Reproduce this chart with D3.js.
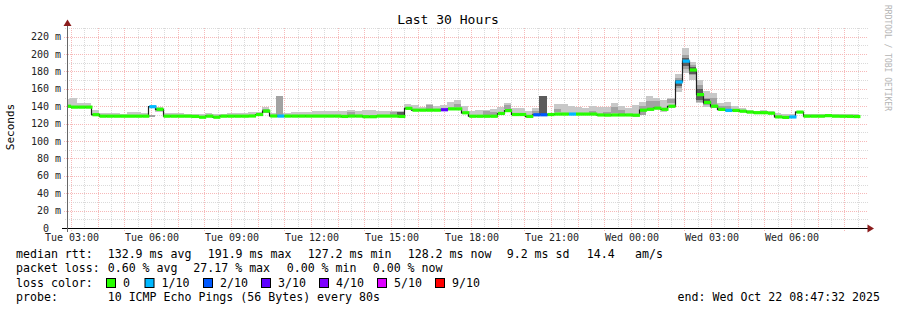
<!DOCTYPE html>
<html>
<head>
<meta charset="utf-8">
<script src="https://cdn.jsdelivr.net/npm/d3@7"></script>
<style>
body { margin: 0; background: #fff; }
text { font-family: "DejaVu Sans Mono", monospace; white-space: pre; }
</style>
</head>
<body>
<svg width="897" height="310"></svg>
<script>
// 16 minute steps, first one starts before the left edge
var firstStep = new Date(2025, 9, 21, 2, 42);
var stepMin = 16;

// median rtt per step (ms)
var medianMs = [
	140, 139, 139, 139, 130.3, 128.6, 128.6, 128.6, 128.6, 128.6,
	128.6, 128.6, 139.5, 136.5, 128.6, 128.6, 128.6, 128.6, 128.3, 127.4,
	128.6, 127.4, 128.6, 128.6, 128.6, 128.6, 128.8, 130.5, 134.5, 128.8,
	128.7, 128.7, 128.7, 128.7, 128.7, 128.7, 128.7, 128.7, 128.7, 128.3,
	128.7, 128.7, 128.0, 128.0, 128.7, 128.7, 128.7, 128.3, 137.6, 135.5,
	135.5, 135.5, 135.5, 136.0, 137.0, 137.0, 132.5, 128.5, 128.5, 128.5,
	128.5, 131.7, 135.0, 130.5, 130.5, 128.3, 130.2, 130.2, 130.5, 131.0,
	131.0, 131.0, 131.0, 131.0, 131.0, 130.0, 129.8, 130.0, 130.0, 130.0,
	129.7, 135.5, 136.5, 137.8, 136.5, 140.0, 167.9, 191.9, 181.7, 153.4,
	144.4, 140.1, 136.4, 135.2, 135.2, 134.3, 133.3, 132.6, 132.6, 132.0,
	127.8, 127.2, 127.7, 133.3, 128.6, 128.6, 128.6, 129.2, 128.6, 128.5,
	128.4, 128.2
];

// lost pings out of 10 per step
var lossTenths = [
	0, 0, 0, 0, 0, 0, 0, 0, 0, 0,
	0, 0, 1, 0, 0, 0, 0, 0, 0, 0,
	0, 0, 0, 0, 0, 0, 0, 0, 0, 0,
	1, 0, 0, 0, 0, 0, 0, 0, 0, 0,
	0, 0, 0, 0, 0, 0, 0, 0, 0, 0,
	0, 0, 0, 3, 0, 0, 0, 0, 0, 0,
	0, 0, 0, 0, 0, 0, 2, 2, 0, 0,
	0, 1, 0, 0, 0, 0, 0, 0, 0, 0,
	0, 0, 0, 0, 0, 0, 1, 1, 0, 0,
	0, 0, 0, 1, 0, 0, 0, 0, 0, 0,
	0, 0, 1, 0, 0, 0, 0, 0, 0, 0,
	0, 0
];

// smoke: lowest and highest ping per step (ms)
var smokeLo = [
	138.5, 137.8, 137.8, 137.8, 129, 127.4, 127.4, 127.4, 127.4, 127.4,
	127.4, 127.4, 127.5, 133, 127.4, 127.4, 127.4, 127.4, 127, 126.2,
	127.4, 126.2, 127.4, 127.4, 127.4, 127.4, 127.6, 129.3, 132, 127.6,
	128, 127.5, 127.5, 127.5, 127.5, 127.5, 127.5, 127.5, 127.5, 127,
	127.5, 127.5, 126.8, 126.8, 127.5, 127.5, 127.5, 127, 136, 134.3,
	134.3, 134.3, 134.3, 134.8, 135.8, 135.8, 131.3, 127.3, 127.3, 127.3,
	127.3, 130.5, 133.8, 129.3, 129.3, 127, 129, 130, 129.3, 129.8,
	129.8, 129.8, 129.8, 129.8, 129.8, 128.8, 128.6, 128.8, 128.8, 128.8,
	128, 131.5, 135, 136.5, 133.5, 138.5, 156.8, 178, 170.2, 143.4,
	139.5, 137.5, 135, 134, 134, 133, 132, 131.4, 131.4, 130.8,
	126.6, 126, 126.5, 132, 127.4, 127.4, 127.4, 128, 127.4, 127.3,
	127.2, 127
];
var smokeHi = [
	148, 149, 143.5, 143.5, 135.7, 132, 132, 132, 131.5, 133,
	133.5, 132, 129.5, 139.5, 132, 132, 132, 131.5, 131, 131.5,
	132, 131, 131.5, 132, 132, 132, 133.8, 133, 139.5, 132,
	152, 132, 133, 133, 133.8, 134.5, 134.5, 135, 134.5, 134.5,
	136, 134.5, 135.7, 135.7, 134.5, 134.5, 134.5, 134.5, 142.6, 141,
	139.5, 142.6, 140.6, 141, 144.5, 147.2, 140.3, 134, 135.7, 135.7,
	136.5, 139.5, 144.2, 137.6, 137.6, 134.5, 137.6, 151.8, 132, 142.6,
	142.6, 140.3, 139.5, 137.6, 140, 139, 139, 144, 140.3, 138,
	141.4, 145.3, 151.8, 149, 147.2, 149.9, 176.7, 206.6, 191.3, 170.2,
	157.5, 155.6, 144.1, 145.3, 140.3, 138.3, 136, 135, 136, 135,
	131.9, 131.5, 131, 135, 131, 131, 131, 131.5, 131, 131,
	131, 131
];
// darker inner smoke bands: [step, low, high]
var midSmoke = [
	[12, 127.5, 129.5], [13, 134, 138], [28, 132, 137], [30, 128, 152],
	[40, 130, 133], [46, 129.5, 133], [51, 137, 141], [55, 139, 143],
	[59, 130, 134], [60, 130, 133], [62, 137, 141], [66, 131.5, 135],
	[69, 133, 137], [74, 132, 135], [76, 130.5, 133.5], [77, 132, 139],
	[78, 129, 136], [81, 130, 140], [82, 137.5, 146.5], [83, 139.5, 146],
	[85, 143.5, 148], [86, 161, 172.5], [87, 183, 199], [88, 175.5, 188],
	[89, 145, 164], [90, 142, 150], [91, 138, 150], [92, 136, 140], [93, 135, 140]
];
var coreSmoke = [
	[34, 129, 130.5], [47, 129.5, 133], [67, 130, 151.8],
	[86, 163, 170], [87, 186, 195], [88, 177, 185], [89, 147, 160], [90, 143, 148]
];

var lossLabels = ["0", "1/10", "2/10", "3/10", "4/10", "5/10", "9/10"];
var lossColors = ["#26ff00", "#00b8ff", "#0059ff", "#5e00ff", "#7e00ff", "#dd00ff", "#ff0000"];
var rttStats = ["132.9 ms avg", "191.9 ms max", "127.2 ms min", "128.2 ms now", "9.2 ms sd", "14.4", "am/s"];
var lossStats = ["0.60 % avg", "27.17 % max", "0.00 % min", "0.00 % now"];
var probeText = "10 ICMP Echo Pings (56 Bytes) every 80s";
var endText = "end: Wed Oct 22 08:47:32 2025";

function drawMe() {
	var left = 67, right = 867, plotTop = 28, bottom = 228;
	var t1 = new Date(2025, 9, 21, 2, 51), t2 = new Date(2025, 9, 22, 8, 51);

	var x = d3.scaleTime().domain([t1, t2]).range([left, right]);
	var y = d3.scaleLinear().domain([0, 230]).range([bottom, plotTop]);

	function stepTime(i) { return d3.timeMinute.offset(firstStep, stepMin * i); }
	function lossColor(l) {
		if (l <= 4) return lossColors[l];
		if (l <= 8) return lossColors[5];
		return lossColors[6];
	}

	var svg = d3.select("svg");
	svg.append("rect").attr("width", 897).attr("height", 310).attr("fill", "#fff");

	svg.append("defs").append("clipPath").attr("id", "plot")
		.append("rect").attr("x", left + 1).attr("y", plotTop - 5).attr("width", right - left).attr("height", bottom - plotTop + 5);

	//Grid
	var grid = svg.append("g");
	var minorX = d3.timeMinute.every(30).range(t1, t2).filter(function(d) { return d.getMinutes() != 0; });
	var majorX = d3.timeHour.every(1).range(t1, t2);
	function px(v) { return Math.round(v) + 0.5; }
	grid.selectAll(".vmin").data(minorX).enter().append("line")
		.attr("x1", function(d) { return px(x(d)); }).attr("x2", function(d) { return px(x(d)); })
		.attr("y1", plotTop).attr("y2", bottom + 2)
		.attr("stroke", "#dadada").attr("stroke-dasharray", "1,1");
	grid.selectAll(".hmin").data(d3.range(10, 231, 20)).enter().append("line")
		.attr("y1", function(d) { return px(y(d)); }).attr("y2", function(d) { return px(y(d)); })
		.attr("x1", left - 2).attr("x2", right + 1)
		.attr("stroke", "#dadada").attr("stroke-dasharray", "1,1");
	grid.selectAll(".vmaj").data(majorX).enter().append("line")
		.attr("x1", function(d) { return px(x(d)); }).attr("x2", function(d) { return px(x(d)); })
		.attr("y1", plotTop).attr("y2", bottom + 3)
		.attr("stroke", "#f6b9b9").attr("stroke-dasharray", "1,1");
	grid.selectAll(".hmaj").data(d3.range(20, 221, 20)).enter().append("line")
		.attr("y1", function(d) { return px(y(d)); }).attr("y2", function(d) { return px(y(d)); })
		.attr("x1", left - 3).attr("x2", right + 1)
		.attr("stroke", "#f6b9b9").attr("stroke-dasharray", "1,1");

	//Smoke
	var plot = svg.append("g").attr("clip-path", "url(#plot)");
	function band(rows, color) {
		plot.append("g").selectAll("rect").data(rows).enter().append("rect")
			.attr("x", function(d) { return x(stepTime(d[0])); })
			.attr("width", function(d) { return x(stepTime(d[0] + 1)) - x(stepTime(d[0])); })
			.attr("y", function(d) { return y(d[2]); })
			.attr("height", function(d) { return y(d[1]) - y(d[2]); })
			.attr("fill", color).attr("shape-rendering", "crispEdges");
	}
	band(smokeLo.map(function(v, i) { return [i, v, smokeHi[i]]; }), "#c8c8c8");
	band(midSmoke, "#a2a2a2");
	band(coreSmoke, "#5c5c5c");

	//Median line and loss coloured bars
	var pts = medianMs.map(function(v, i) { return {t: stepTime(i), v: v}; });
	pts.push({t: stepTime(medianMs.length), v: medianMs[medianMs.length - 1]});
	var line = d3.line().curve(d3.curveStepAfter)
		.x(function(d) { return px(x(d.t)); })
		.y(function(d) { return y(d.v); });
	plot.append("path").attr("d", line(pts)).attr("fill", "none").attr("stroke", "#202020").attr("stroke-width", 1.2);
	plot.append("g").selectAll("rect").data(medianMs).enter().append("rect")
		.attr("x", function(d, i) { return x(stepTime(i)) + 1; })
		.attr("width", function(d, i) { return x(stepTime(i + 1)) - x(stepTime(i)); })
		.attr("y", function(d) { return y(d) - 1.6; })
		.attr("height", 3.2)
		.attr("fill", function(d, i) { return lossColor(lossTenths[i]); });

	//Axis
	svg.append("line").attr("x1", 62).attr("x2", 869).attr("y1", bottom + 0.5).attr("y2", bottom + 0.5).attr("stroke", "#000");
	svg.append("line").attr("x1", left + 0.5).attr("x2", left + 0.5).attr("y1", bottom + 4).attr("y2", 24).attr("stroke", "#666");
	svg.append("path").attr("d", "M867.5,224.5L874,228.5L867.5,232.5Z").attr("fill", "#8b1c1c");
	svg.append("path").attr("d", "M63.5,26L67.5,19.5L71.5,26Z").attr("fill", "#8b1c1c");

	svg.append("g").selectAll("text").data(d3.range(0, 221, 20)).enter().append("text")
		.attr("x", 61).attr("y", function(d) { return y(d); }).attr("dy", "0.35em")
		.attr("text-anchor", "end").attr("font-size", "10px").attr("fill", "#222")
		.text(function(d) { return d == 0 ? "0  " : d + " m"; });

	svg.append("g").selectAll("text").data(d3.timeHour.every(3).range(t1, t2)).enter().append("text")
		.attr("x", function(d) { return x(d) + 1; }).attr("y", 241)
		.attr("text-anchor", "middle").attr("font-size", "10px").attr("fill", "#222")
		.text(d3.timeFormat("%a %H:%M"));

	svg.append("text").attr("x", 448).attr("y", 24).attr("text-anchor", "middle")
		.attr("font-size", "13px").text("Last 30 Hours");
	svg.append("text").attr("transform", "translate(14,127) rotate(-90)").attr("text-anchor", "middle")
		.attr("font-size", "11px").text("Seconds");
	svg.append("text").attr("transform", "translate(885,5) rotate(90)")
		.attr("font-size", "8px").attr("fill", "#b4b4b4").text("RRDTOOL / TOBI OETIKER");

	//Legend
	var lg = svg.append("g").attr("font-size", "11.6px");
	var rows = [258, 272.3, 286.6, 301];
	lg.append("text").attr("x", 16).attr("y", rows[0]).text("median rtt:");
	lg.append("text").attr("x", 16).attr("y", rows[1]).text("packet loss:");
	lg.append("text").attr("x", 16).attr("y", rows[2]).text("loss color:");
	lg.append("text").attr("x", 16).attr("y", rows[3]).text("probe:");
	var rttX = [107.7, 207.7, 307.7, 407.7, 506.7, 586.7, 635];
	lg.selectAll(".rtt").data(rttStats).enter().append("text")
		.attr("x", function(d, i) { return rttX[i]; }).attr("y", rows[0]).text(function(d) { return d; });
	var lossX = [107.7, 193.3, 286.7, 372.7];
	lg.selectAll(".pl").data(lossStats).enter().append("text")
		.attr("x", function(d, i) { return lossX[i]; }).attr("y", rows[1]).text(function(d) { return d; });
	var boxX = [106.5, 145, 203.5, 261.5, 319.5, 377.5, 435.5];
	var key = lg.selectAll(".key").data(lossLabels).enter().append("g");
	key.append("rect").attr("x", function(d, i) { return boxX[i]; }).attr("y", 278.5)
		.attr("width", 9).attr("height", 9)
		.attr("fill", function(d, i) { return lossColors[i]; }).attr("stroke", "#000");
	key.append("text").attr("x", function(d, i) { return boxX[i] + 16.5; }).attr("y", rows[2]).text(function(d) { return d; });
	lg.append("text").attr("x", 107.7).attr("y", rows[3]).text(probeText);
	lg.append("text").attr("x", 880).attr("y", rows[3]).attr("text-anchor", "end").text(endText);
}

drawMe();
</script>
</body>
</html>
